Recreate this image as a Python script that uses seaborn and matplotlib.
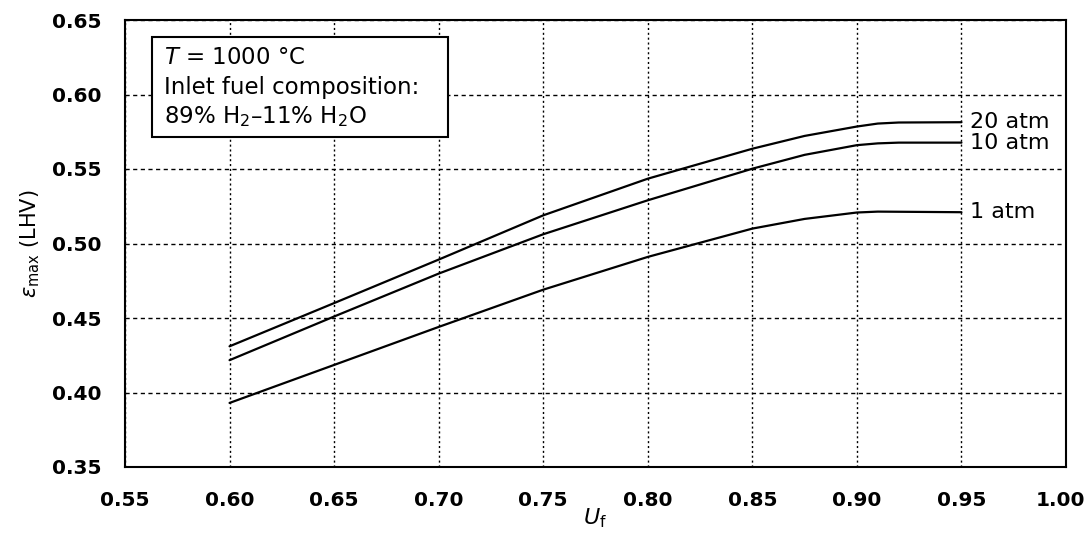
import numpy as np
import pandas as pd
import matplotlib
matplotlib.use("Agg")
import matplotlib.pyplot as plt
import matplotlib.transforms as mtransforms
from matplotlib.patches import Rectangle
import seaborn as sns

# Fuel utilisation values at which the efficiency curves are sampled
uf = [0.60, 0.65, 0.70, 0.75, 0.80, 0.85, 0.875, 0.90, 0.91, 0.92, 0.95]

# Maximum efficiency (LHV basis) for each operating pressure
eff_1atm = [0.393, 0.4185, 0.4440, 0.4690, 0.4910, 0.5100, 0.5165, 0.5208, 0.5214, 0.5213, 0.5210]
eff_10atm = [0.4217, 0.4510, 0.4798, 0.5062, 0.5290, 0.5502, 0.5595, 0.5660, 0.5672, 0.5677, 0.5677]
eff_20atm = [0.431, 0.4600, 0.4892, 0.5189, 0.5435, 0.5636, 0.5722, 0.5785, 0.5805, 0.5812, 0.5814]

pressures = ["20 atm", "10 atm", "1 atm"]
series = [eff_20atm, eff_10atm, eff_1atm]

x_ticks = [0.55, 0.60, 0.65, 0.70, 0.75, 0.80, 0.85, 0.90, 0.95, 1.00]
y_ticks = [0.35, 0.40, 0.45, 0.50, 0.55, 0.60, 0.65]

df = pd.concat(
    [pd.DataFrame({"Uf": uf, "eff": vals, "pressure": p}) for p, vals in zip(pressures, series)],
    ignore_index=True,
)

sns.set_theme(style="white")
plt.rcParams["font.family"] = ["DejaVu Sans"]
plt.rcParams["mathtext.fontset"] = "dejavusans"

W, H = 1087, 533
fig = plt.figure(figsize=(W / 100, H / 100), dpi=100)
fig.patch.set_facecolor("white")

left, right, top, bottom = 125, 1066, 20, 467
ax = fig.add_axes([left / W, 1 - bottom / H, (right - left) / W, (bottom - top) / H])
ax.set_facecolor("white")

sns.lineplot(
    data=df, x="Uf", y="eff", hue="pressure",
    palette=["black"] * 3, legend=False, ax=ax, linewidth=1.6,
)

ax.set_xlim(0.55, 1.00)
ax.set_ylim(0.35, 0.65)
ax.set_xticks(x_ticks)
ax.set_yticks(y_ticks)
ax.set_xticklabels([f"{v:.2f}" for v in x_ticks], fontsize=14.5, fontweight="bold")
ax.set_yticklabels([f"{v:.2f}" for v in y_ticks], fontsize=14.5, fontweight="bold")
ax.tick_params(axis="both", direction="out", length=12, width=1.5, color="black",
               labelcolor="black", pad=5)

# keep the last x tick label inside the figure edge
last = ax.get_xticklabels()[-1]
last.set_transform(last.get_transform() + mtransforms.ScaledTranslation(-6 / 100, 0, fig.dpi_scale_trans))

ax.xaxis.grid(True, color="black", linestyle=(0, (1.5, 2.0)), linewidth=1.0)
ax.yaxis.grid(True, color="black", linestyle=(0, (3.0, 2.5)), linewidth=1.0)
for s in ax.spines.values():
    s.set_color("black")
    s.set_linewidth(1.5)

ax.set_xlabel(r"$U_\mathrm{f}$", fontsize=16, color="black", va="center")
ax.xaxis.set_label_coords(0.5, (bottom - 518) / (bottom - top))
ax.set_ylabel(r"$\varepsilon_\mathrm{max}$ (LHV)", fontsize=15, color="black", va="center")
ax.yaxis.set_label_coords((30 - left) / (right - left), 0.5)

# Pressure labels at the end of each curve
for p, vals in zip(pressures, series):
    ax.text(uf[-1] + 0.004, vals[-1], p, fontsize=16, va="center", ha="left", color="black")

# Operating-conditions box
def px_to_axes(x, y):
    return ((x - left) / (right - left), (bottom - y) / (bottom - top))

bx0, by0 = px_to_axes(152, 137)
bx1, by1 = px_to_axes(448, 37)
ax.add_patch(Rectangle((bx0, by0), bx1 - bx0, by1 - by0, transform=ax.transAxes,
                       facecolor="white", edgecolor="black", linewidth=1.5, zorder=5))
lines = [r"$T$ = 1000 °C", "Inlet fuel composition:", r"89% H$_2$–11% H$_2$O"]
for i, txt in enumerate(lines):
    tx, ty = px_to_axes(164, 58 + 29.5 * i)
    ax.text(tx, ty, txt, transform=ax.transAxes, fontsize=16.5, va="center", ha="left",
            color="black", zorder=6)

fig.savefig("out.png", dpi=100, facecolor="white")
